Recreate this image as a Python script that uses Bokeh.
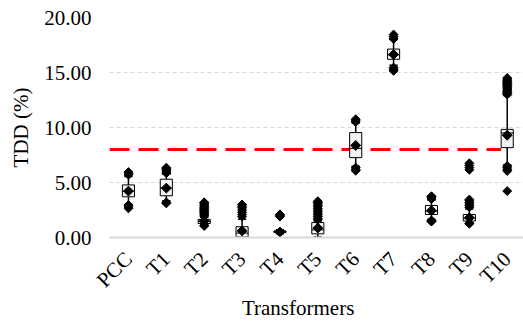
import numpy as np
from bokeh.plotting import figure
from bokeh.models import Range1d, FixedTicker, ColumnDataSource
from bokeh.embed import file_html
from bokeh.resources import INLINE

categories = ["PCC", "T1", "T2", "T3", "T4", "T5", "T6", "T7", "T8", "T9", "T10"]
q1 =            [3.70, 3.79, 1.27, 0.05, 0.45, 0.33, 7.26, 16.20, 2.09, 1.50, 8.17]
median =        [4.20, 4.50, 1.45, 0.40, 0.55, 0.70, 8.10, 16.60, 2.40, 1.75, 9.50]
q3 =            [4.78, 5.30, 1.65, 0.98, 0.60, 1.36, 9.54, 17.13, 2.91, 2.09, 9.83]
mean =          [4.22, 4.49, 1.50, 0.60, 0.50, 0.86, 8.37, 16.64, 2.44, 1.80, 9.30]
lower_whisker = [3.00, 3.35, 1.15, 0.00, 0.35, 0.05, 6.47, 15.67, 1.65, 1.35, 6.60]
upper_whisker = [5.55, 5.75, 1.85, 1.65, 0.70, 1.50, 10.40, 18.00, 3.40, 2.60, 12.90]
outliers = [
    [5.70, 5.80, 5.95, 2.95, 2.80, 2.65],
    [5.85, 5.95, 6.05, 6.15, 6.25, 6.35, 3.20, 3.10],
    [1.95, 2.05, 2.15, 2.25, 2.35, 2.45, 2.55, 2.65, 2.75, 2.85, 2.95, 3.05, 3.15, 3.20, 1.10, 1.05],
    [1.90, 2.10, 2.30, 2.50, 2.70, 2.85, 3.00],
    [1.90, 1.97, 2.03, 2.10],
    [1.60, 1.75, 1.90, 2.05, 2.20, 2.35, 2.50, 2.65, 2.80, 2.95, 3.10, 3.20, 3.30],
    [10.50, 10.60, 10.75, 6.35, 6.20, 6.07],
    [18.05, 18.25, 18.45, 15.45, 15.30, 15.15],
    [3.50, 3.60, 3.70, 3.75, 1.55, 1.48, 1.45],
    [2.75, 2.90, 3.05, 3.20, 3.35, 3.45, 6.15, 6.35, 6.55, 6.75, 1.30, 1.25],
    [13.0, 13.1, 13.2, 13.3, 13.4, 13.5, 13.6, 13.7, 13.8, 13.9, 14.0, 14.1, 14.2, 14.3, 14.4, 14.5,
     6.50, 6.35, 6.20, 6.05, 4.22],
]
limit = 8.0
y_ticks = [0, 5, 10, 15, 20]

FONT = "Liberation Serif"
FS = "21px"
xs = list(range(len(categories)))
box_w = 0.32
cap_w = 0.22

p = figure(width=523, height=322, output_backend="svg", toolbar_location=None,
           x_range=Range1d(-0.5, 10.43), y_range=Range1d(0, 20),
           min_border_left=109, min_border_right=0, min_border_top=17, min_border_bottom=76)
p.outline_line_color = None
p.background_fill_color = "white"
p.border_fill_color = "white"

# grid
p.xgrid.grid_line_color = None
p.ygrid.grid_line_color = "#d9d9d9"
p.ygrid.grid_line_dash = "4 3"
p.ygrid.grid_line_width = 1
p.yaxis.ticker = FixedTicker(ticks=y_ticks)
p.yaxis.major_label_overrides = {t: f"{t:.2f}" for t in y_ticks}
p.xaxis.ticker = FixedTicker(ticks=xs)
p.xaxis.major_label_overrides = {i: c for i, c in enumerate(categories)}

xa = p.xaxis[0]
ya = p.yaxis[0]
for ax in (xa, ya):
    ax.major_tick_line_color = None
    ax.minor_tick_line_color = None
    ax.major_tick_out = 0
    ax.major_tick_in = 0
    ax.minor_tick_out = 0
    ax.major_label_text_font = FONT
    ax.major_label_text_font_size = FS
    ax.major_label_text_color = "black"
    ax.axis_label_text_font = FONT
    ax.axis_label_text_font_size = FS
    ax.axis_label_text_font_style = "normal"
    ax.axis_label_text_color = "black"
ya.axis_line_color = None
ya.major_label_standoff = 18
ya.axis_label = "TDD (%)"
ya.axis_label_standoff = 8
xa.axis_line_color = "#d9d9d9"
xa.axis_line_width = 2
xa.major_label_orientation = np.pi / 4
xa.major_label_standoff = 18
xa.axis_label = "Transformers" + "\u00a0" * 7
xa.axis_label_standoff = -8

# red limit line
p.line([-0.5, xs[-1] - box_w / 2], [limit, limit], line_color="#ff0000", line_width=3, line_dash="20 9")

src = ColumnDataSource(dict(x=xs, q1=q1, q3=q3, med=median, mean=mean,
                            lo=lower_whisker, hi=upper_whisker))
# whiskers
p.segment(x0="x", y0="q3", x1="x", y1="hi", source=src, line_color="black", line_width=1.5)
p.segment(x0="x", y0="lo", x1="x", y1="q1", source=src, line_color="black", line_width=1.5)
cx0 = [x - cap_w / 2 for x in xs]
cx1 = [x + cap_w / 2 for x in xs]
p.segment(cx0, upper_whisker, cx1, upper_whisker, line_color="black", line_width=1.5)
p.segment(cx0, lower_whisker, cx1, lower_whisker, line_color="black", line_width=1.5)
# boxes
p.vbar(x="x", width=box_w, bottom="q1", top="q3", source=src,
       fill_color="#f2f2f2", line_color="black", line_width=1)
mx0 = [x - box_w / 2 for x in xs]
mx1 = [x + box_w / 2 for x in xs]
p.segment(mx0, median, mx1, median, line_color="black", line_width=1)
# outliers
ox = [i for i, vals in enumerate(outliers) for _ in vals]
oy = [v for vals in outliers for v in vals]
p.scatter(ox, oy, marker="square", angle=np.pi / 4, size=6.3, fill_color="black", line_color="black")
# means
p.scatter("x", "mean", source=src, marker="square", angle=np.pi / 4, size=7,
          fill_color="black", line_color="black")

open("out.html", "w").write(file_html(p, INLINE))
